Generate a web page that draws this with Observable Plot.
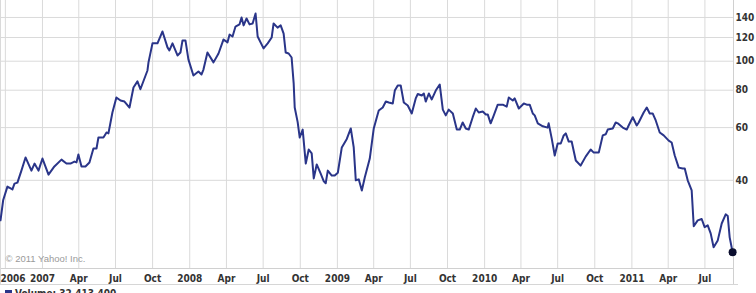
<!DOCTYPE html>
<html><head><meta charset="utf-8">
<script src="https://cdn.jsdelivr.net/npm/d3@7"></script>
<script src="https://cdn.jsdelivr.net/npm/@observablehq/plot@0.6"></script>
<style>
body{margin:0;background:#fff;overflow:hidden}
#foot{width:733px;border-top:1px solid #d6d6d6;padding-top:3px;padding-left:5px;font:bold 10px "DejaVu Sans Condensed","DejaVu Sans",sans-serif;color:#333;line-height:12px;white-space:nowrap}
#foot .sq{display:inline-block;width:7px;height:7px;background:#2a3589;margin-right:3px}
</style></head><body>
<div id="chart"></div>
<div id="foot"><span class="sq"></span>Volume: 32,413,400</div>
<script>
// decimal years of each sampled weekly close
const t = [2006.715,2006.733,2006.762,2006.796,2006.810,2006.830,2006.857,2006.885,2006.925,2006.946,2006.973,
2007.000,2007.041,2007.081,2007.129,2007.163,2007.190,2007.217,2007.231,2007.244,2007.265,2007.292,2007.319,2007.346,2007.367,2007.380,2007.414,2007.435,2007.448,2007.475,2007.502,2007.530,2007.557,2007.591,2007.618,2007.645,2007.665,2007.713,2007.720,2007.747,2007.781,2007.815,2007.849,2007.862,2007.883,2007.917,2007.937,2007.951,2007.971,2007.991,
2008.025,2008.059,2008.080,2008.093,2008.120,2008.161,2008.195,2008.229,2008.256,2008.270,2008.290,2008.310,2008.337,2008.351,2008.365,2008.385,2008.405,2008.426,2008.446,2008.460,2008.500,2008.528,2008.555,2008.568,2008.595,2008.616,2008.636,2008.650,2008.670,2008.690,2008.704,2008.711,2008.731,2008.745,2008.765,2008.786,2008.806,2008.826,2008.840,2008.860,2008.887,2008.908,2008.921,2008.935,2008.962,2008.982,
2009.003,2009.030,2009.064,2009.091,2009.111,2009.125,2009.145,2009.166,2009.186,2009.220,2009.247,2009.268,2009.281,2009.308,2009.329,2009.349,2009.376,2009.390,2009.410,2009.430,2009.451,2009.478,2009.505,2009.532,2009.546,2009.573,2009.587,2009.600,2009.621,2009.641,2009.668,2009.695,2009.716,2009.736,2009.756,2009.784,2009.811,2009.831,2009.851,2009.872,2009.892,2009.919,2009.940,2009.960,2009.987,
2010.008,2010.021,2010.041,2010.062,2010.089,2010.123,2010.150,2010.164,2010.191,2010.204,2010.232,2010.266,2010.286,2010.306,2010.327,2010.340,2010.361,2010.395,2010.428,2010.435,2010.456,2010.476,2010.496,2010.517,2010.537,2010.551,2010.571,2010.591,2010.619,2010.652,2010.686,2010.720,2010.741,2010.775,2010.802,2010.822,2010.836,2010.870,2010.890,2010.904,2010.938,2010.965,2010.978,
2011.006,2011.033,2011.046,2011.080,2011.101,2011.121,2011.141,2011.162,2011.189,2011.216,2011.250,2011.270,2011.291,2011.318,2011.345,2011.359,2011.379,2011.406,2011.420,2011.447,2011.474,2011.494,2011.515,2011.535,2011.555,2011.583,2011.610,2011.637,2011.651,2011.664,2011.684];
const prices = [29.4,34.3,38.1,37.3,39.0,39.3,43.1,47.7,43.1,45.5,43.1,
47.3,41.8,44.5,46.9,45.5,45.5,46.2,45.9,48.8,44.5,44.5,45.9,51.1,51.1,55.6,55.6,57.8,57.4,67.4,75.6,73.9,73.3,70.0,81.7,85.6,80.6,93.1,99.1,114.7,114.7,125.7,111.2,108.6,114.7,104.5,106.9,117.3,117.3,101.4,
89.6,92.4,90.3,93.8,106.9,99.1,106.1,118.2,115.6,122.7,120.9,130.5,132.7,140.0,131.7,138.9,132.7,133.7,144.3,120.9,110.4,114.7,120.0,133.7,129.5,131.7,123.7,106.9,106.1,102.9,84.3,70.0,62.6,55.6,59.1,45.5,50.7,49.2,40.6,45.2,42.1,39.7,39.1,43.1,41.5,41.5,
42.4,51.5,55.0,59.6,51.5,40.0,40.3,37.0,40.9,47.3,59.6,65.0,68.4,70.0,73.3,72.8,72.2,79.8,83.0,83.0,72.8,71.1,66.9,75.1,77.7,76.8,78.0,73.3,78.0,74.5,79.8,83.6,68.9,65.9,68.9,66.9,59.1,59.1,62.4,59.6,59.1,65.0,69.5,67.4,67.9,
66.4,66.4,62.0,65.9,71.6,71.6,70.5,75.6,73.9,75.1,69.5,72.2,71.6,71.6,66.9,65.9,62.0,60.6,60.0,62.0,55.0,48.4,53.1,53.1,56.5,57.4,53.9,53.9,46.6,44.8,48.0,50.7,49.5,49.5,56.5,57.0,59.1,59.6,62.4,62.0,60.0,59.1,61.0,
65.0,61.0,62.4,67.4,70.0,66.9,66.9,63.4,57.8,56.5,54.3,53.5,48.4,44.1,43.8,43.8,40.0,37.0,28.1,29.4,29.7,27.9,28.3,26.6,23.9,25.2,28.7,30.8,30.4,25.8,23.0];
const yTicks = [40, 60, 80, 100, 120, 140];
const quarterNames = ["Jan", "Apr", "Jul", "Oct"];
const startLabel = "2006";
const copyright = "© 2011 Yahoo! Inc.";
const xStartYear = 2006.715, xEndYear = 2011.69;
const yDomain = [20.3, 159.5];

function fromDecimalYear(v) {
  const y = Math.floor(v);
  const a = Date.UTC(y, 0, 1), b = Date.UTC(y + 1, 0, 1);
  return new Date(a + (v - y) * (b - a));
}
const data = t.map((v, i) => ({date: fromDecimalYear(v), price: prices[i]}));
const xDomain = [fromDecimalYear(xStartYear), fromDecimalYear(xEndYear)];
const quarters = d3.utcMonth.every(3).range(new Date(Date.UTC(2006, 9, 1)), xDomain[1]);
const labeled = quarters.filter(d => +d >= Date.UTC(2007, 0, 1));
const grid = "#dadada";

const chart = Plot.plot({
  width: 756, height: 284,
  marginLeft: 0, marginRight: 23, marginTop: 0, marginBottom: 16,
  style: {fontFamily: "'DejaVu Sans Condensed', 'DejaVu Sans', sans-serif", fontSize: "10px", fontWeight: "bold", color: "#333", background: "#fff"},
  x: {type: "utc", domain: xDomain},
  y: {type: "log", domain: yDomain},
  marks: [
    Plot.gridX(quarters, {stroke: grid, strokeOpacity: 1}),
    Plot.gridY(yTicks, {stroke: grid, strokeOpacity: 1}),
    Plot.frame({anchor: "bottom", stroke: "#d0d0d0"}),
    Plot.frame({anchor: "left", stroke: grid, insetBottom: -16}),
    Plot.frame({anchor: "right", stroke: "#d0d0d0", insetBottom: -16}),
    Plot.axisX(labeled, {tickSize: 0, tickPadding: 6, label: null,
      tickFormat: d => d.getUTCMonth() === 0 ? String(d.getUTCFullYear()) : quarterNames[d.getUTCMonth() / 3]}),
    Plot.axisX([xDomain[0]], {tickSize: 0, tickPadding: 6, label: null, textAnchor: "start", tickFormat: () => startLabel}),
    Plot.axisY(yTicks, {anchor: "right", tickSize: 0, tickPadding: 2, label: null, tickFormat: d => String(d)}),
    Plot.text([copyright], {frameAnchor: "bottom-left", dx: 5, dy: -7, fill: "#9a9a9a", fontWeight: "normal",
      fontFamily: "'Liberation Sans', Arial, sans-serif", fontSize: 9.5}),
    Plot.line(data, {x: "date", y: "price", stroke: "#2a3589", strokeWidth: 2}),
    Plot.dot([data[data.length - 1]], {x: "date", y: "price", r: 4, fill: "#0b0e2e", stroke: "none"})
  ]
});
document.getElementById("chart").appendChild(chart);
</script>
</body></html>
